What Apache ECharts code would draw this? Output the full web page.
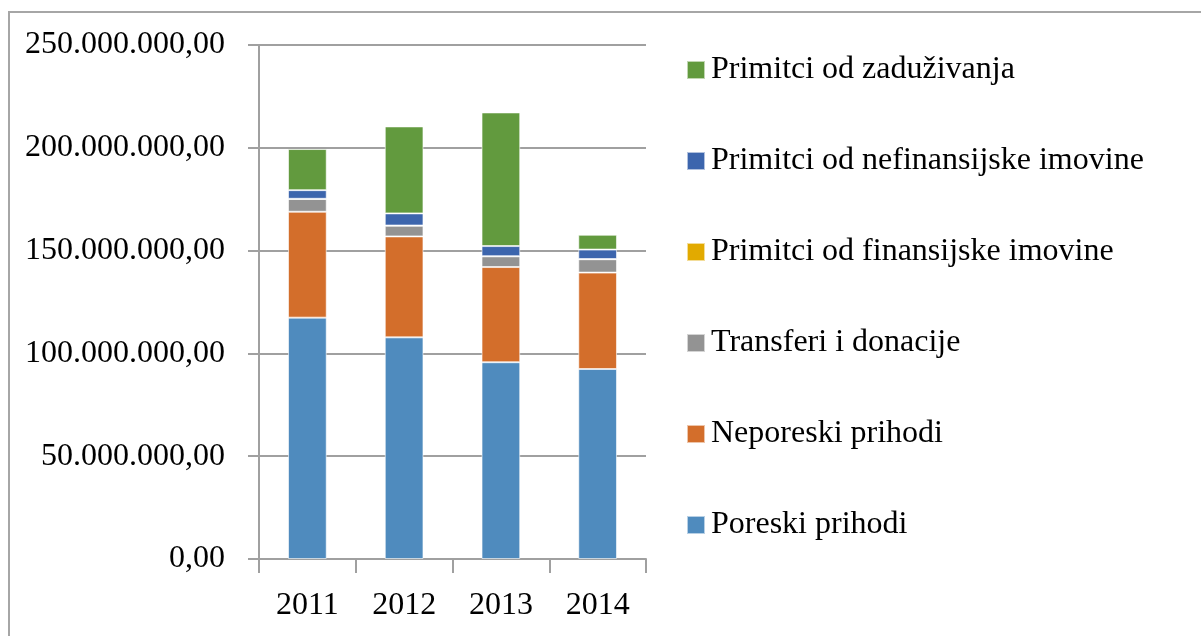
<!DOCTYPE html>
<html>
<head>
<meta charset="utf-8">
<script src="https://cdn.jsdelivr.net/npm/echarts@6/dist/echarts.min.js"></script>
<style>
  html, body { margin: 0; padding: 0; background: #fff; }
  #BarChart { width: 1201px; height: 636px; }
</style>
</head>
<body>
<div id="BarChart"></div>
<script>
// godine
var years = ['2011', '2012', '2013', '2014']
// vrijednosti u milionima
var poreskiPrihodi = [117.4, 107.8, 95.7, 92.4]
var neporeskiPrihodi = [51.5, 49.1, 46.3, 46.9]
var transferiDonacije = [6.2, 5.2, 5.2, 6.5]
var finansijskaImovina = [0.1, 0.1, 0.1, 0.1]
var nefinansijskaImovina = [4.2, 5.9, 4.9, 4.6]
var zaduzivanja = [20.0, 42.3, 65.0, 7.2]
var yTicks = [0, 50, 100, 150, 200, 250]

var serif = '"Liberation Serif", "DejaVu Serif", serif'

function fmt (v) {
  var s = String(Math.round(v * 1000000))
  s = s.replace(/\B(?=(\d{3})+(?!\d))/g, '.')
  return s + ',00'
}

var myChart = echarts.init(document.getElementById('BarChart'))

function bar (name, data, color) {
  return {
    name: name,
    type: 'bar',
    stack: 'ukupno',
    barWidth: '40%',
    data: data,
    itemStyle: { color: color, borderColor: 'rgba(255,255,255,0.6)', borderWidth: 1 }
  }
}

var option = {
  animation: false,
  graphic: [{
    type: 'rect',
    shape: { x: 9, y: 12, width: 1400, height: 800 },
    style: { fill: 'none', stroke: '#a6a6a6', lineWidth: 2 }
  }],
  legend: {
    orient: 'vertical',
    left: 681,
    top: 49,
    itemWidth: 18,
    itemHeight: 18,
    itemGap: 59,
    icon: 'rect',
    data: ['Primitci od zaduživanja', 'Primitci od nefinansijske imovine',
      'Primitci od finansijske imovine', 'Transferi i donacije',
      'Neporeski prihodi', 'Poreski prihodi'],
    textStyle: { fontFamily: serif, fontSize: 32, color: '#000', lineHeight: 32, padding: [0, 0, 0, 1] }
  },
  grid: { left: 259, right: 555, top: 45, bottom: 77 },
  xAxis: {
    type: 'category',
    data: years,
    axisLine: { lineStyle: { color: '#a0a0a0', width: 2 } },
    axisTick: { show: true, length: 14, lineStyle: { color: '#a0a0a0', width: 2 } },
    axisLabel: { fontFamily: serif, fontSize: 32, color: '#000', margin: 31 }
  },
  yAxis: {
    type: 'value',
    min: yTicks[0],
    max: yTicks[yTicks.length - 1],
    interval: 50,
    axisLine: { show: true, lineStyle: { color: '#a0a0a0', width: 2 } },
    axisTick: { show: true, length: 11, lineStyle: { color: '#a0a0a0', width: 2 } },
    splitLine: { lineStyle: { color: '#a0a0a0', width: 2 } },
    axisLabel: { fontFamily: serif, fontSize: 32, color: '#000', margin: 34, formatter: fmt }
  },
  series: [
    bar('Poreski prihodi', poreskiPrihodi, '#4f8bbe'),
    bar('Neporeski prihodi', neporeskiPrihodi, '#d36e2b'),
    bar('Transferi i donacije', transferiDonacije, '#939393'),
    bar('Primitci od finansijske imovine', finansijskaImovina, '#e2aa00'),
    bar('Primitci od nefinansijske imovine', nefinansijskaImovina, '#3c65ad'),
    bar('Primitci od zaduživanja', zaduzivanja, '#629a3e')
  ]
}

myChart.setOption(option)
</script>
</body>
</html>
